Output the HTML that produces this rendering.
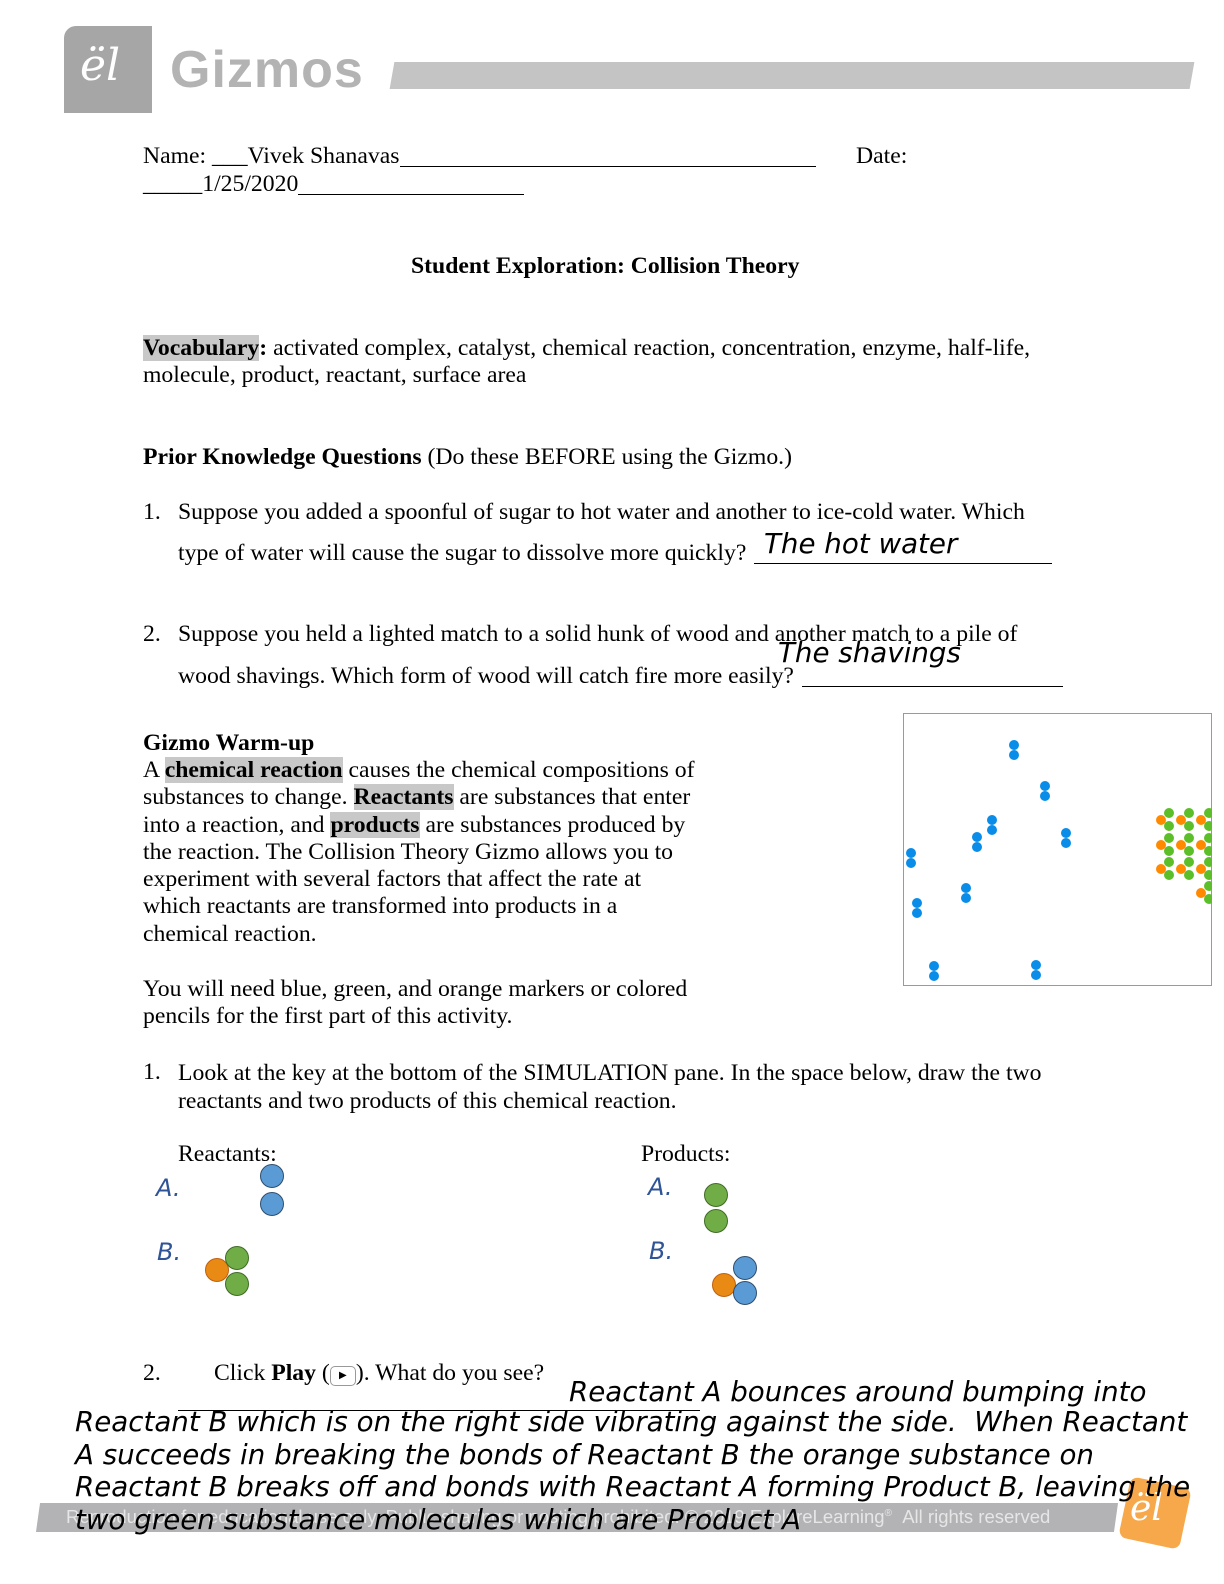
<!DOCTYPE html>
<html><head><meta charset="utf-8"><style>
body{margin:0;width:1224px;height:1584px;position:relative;background:#fff;font-family:"Liberation Serif",serif;font-size:23.7px;color:#000;overflow:hidden}
.a{position:absolute;white-space:nowrap}
.h{font-family:"DejaVu Sans",sans-serif;font-style:italic;font-size:27.7px;color:#000}
.hl{background:#c8c8c8}
.ab{font-family:"DejaVu Sans",sans-serif;font-style:italic;font-size:24px;color:#2f5597}
.c{position:absolute;border-radius:50%;border:1.5px solid #2d4e6e;box-sizing:border-box}
.ul{position:absolute;border-top:1px solid #000;height:0}
</style></head><body>
<!-- header -->
<div class="a" style="left:64px;top:26px;width:88px;height:87px;background:#a6a6a6;border-radius:12px 0 0 0"></div>
<div class="a" style="left:80px;top:40px;font-family:'DejaVu Serif',serif;font-style:italic;font-size:44px;color:#fff">ël</div>
<div class="a" style="left:170px;top:40px;font-family:'Liberation Sans',sans-serif;font-weight:bold;font-size:52px;color:#b3b3b3;letter-spacing:1px">Gizmos</div>
<div class="a" style="left:392px;top:62px;width:800px;height:27px;background:#c4c4c4;transform:skewX(-10deg)"></div>

<div class="a" style="left:143px;top:143px">Name: ___Vivek Shanavas</div>
<div class="ul" style="left:400px;top:166px;width:416px"></div>
<div class="a" style="left:856px;top:143px">Date:</div>
<div class="a" style="left:143px;top:171px">_____1/25/2020</div>
<div class="ul" style="left:298px;top:194px;width:226px"></div>
<div class="a" style="left:411px;top:253px;font-weight:bold">Student Exploration: Collision Theory</div>
<div class="a" style="left:143px;top:335px"><b class="hl">Vocabulary</b><b>:</b> activated complex, catalyst, chemical reaction, concentration, enzyme, half-life,</div>
<div class="a" style="left:143px;top:362px">molecule, product, reactant, surface area</div>
<div class="a" style="left:143px;top:444px"><b>Prior Knowledge Questions</b> (Do these BEFORE using the Gizmo.)</div>
<div class="a" style="left:143px;top:499px">1.</div>
<div class="a" style="left:178px;top:499px">Suppose you added a spoonful of sugar to hot water and another to ice-cold water. Which</div>
<div class="a" style="left:178px;top:540px">type of water will cause the sugar to dissolve more quickly?</div>
<div class="ul" style="left:754px;top:563px;width:298px"></div>
<div class="a h" style="left:764px;top:527px">The hot water</div>
<div class="a" style="left:143px;top:621px">2.</div>
<div class="a" style="left:178px;top:621px">Suppose you held a lighted match to a solid hunk of wood and another match to a pile of</div>
<div class="a" style="left:178px;top:663px">wood shavings. Which form of wood will catch fire more easily?</div>
<div class="ul" style="left:802px;top:686px;width:261px"></div>
<div class="a h" style="left:778px;top:636px">The shavings</div>

<div class="a" style="left:143px;top:730px;font-weight:bold">Gizmo Warm-up</div>
<div class="a" style="left:143px;top:757px;line-height:27.3px">A <b class="hl">chemical reaction</b> causes the chemical compositions of<br>substances to change. <b class="hl">Reactants</b> are substances that enter<br>into a reaction, and <b class="hl">products</b> are substances produced by<br>the reaction. The Collision Theory Gizmo allows you to<br>experiment with several factors that affect the rate at<br>which reactants are transformed into products in a<br>chemical reaction.</div>
<div class="a" style="left:143px;top:976px;line-height:27.3px">You will need blue, green, and orange markers or colored<br>pencils for the first part of this activity.</div>

<svg class="a" style="left:903px;top:713px" width="309" height="273">
<rect x="0.5" y="0.5" width="308" height="272" fill="#fff" stroke="#9a9a9a"/>
<g fill="#0a8de8">
<circle cx="111" cy="32" r="5"/><circle cx="111" cy="42" r="5"/>
<circle cx="142" cy="73" r="5"/><circle cx="142" cy="83" r="5"/>
<circle cx="89" cy="107" r="5"/><circle cx="89" cy="117" r="5"/>
<circle cx="74" cy="124" r="5"/><circle cx="74" cy="134" r="5"/>
<circle cx="163" cy="120" r="5"/><circle cx="163" cy="130" r="5"/>
<circle cx="8" cy="140" r="5"/><circle cx="8" cy="150" r="5"/>
<circle cx="63" cy="175" r="5"/><circle cx="63" cy="185" r="5"/>
<circle cx="14" cy="190" r="5"/><circle cx="14" cy="200" r="5"/>
<circle cx="31" cy="253" r="5"/><circle cx="31" cy="263" r="5"/>
<circle cx="133" cy="252" r="5"/><circle cx="133" cy="262" r="5"/>
</g>
<g id="m"><circle cx="258" cy="107" r="5" fill="#ff8a00"/><circle cx="266" cy="100" r="5" fill="#5cbf2a"/><circle cx="266" cy="113" r="5" fill="#5cbf2a"/></g>
<use href="#m" x="20"/><use href="#m" x="40"/>
<use href="#m" y="25"/><use href="#m" x="20" y="25"/><use href="#m" x="40" y="25"/>
<use href="#m" y="49"/><use href="#m" x="20" y="49"/><use href="#m" x="40" y="49"/>
<use href="#m" x="40" y="73"/>
</svg>

<div class="a" style="left:143px;top:1059px">1.</div>
<div class="a" style="left:178px;top:1059px;line-height:28px">Look at the key at the bottom of the SIMULATION pane. In the space below, draw the two<br>reactants and two products of this chemical reaction.</div>
<div class="a" style="left:178px;top:1141px">Reactants:</div>
<div class="a" style="left:641px;top:1141px">Products:</div>
<div class="a ab" style="left:156px;top:1174px">A.</div>
<div class="a ab" style="left:157px;top:1238px">B.</div>
<div class="a ab" style="left:648px;top:1173px">A.</div>
<div class="a ab" style="left:649px;top:1237px">B.</div>
<div class="c" style="left:260px;top:1164px;width:24px;height:24px;background:#5b9bd5"></div>
<div class="c" style="left:260px;top:1192px;width:24px;height:24px;background:#5b9bd5"></div>
<div class="c" style="left:205px;top:1258px;width:24px;height:24px;background:#e88a14;border-color:#c06010"></div>
<div class="c" style="left:225px;top:1246px;width:24px;height:24px;background:#70ad47;border-color:#3f6b25"></div>
<div class="c" style="left:225px;top:1272px;width:24px;height:24px;background:#70ad47;border-color:#3f6b25"></div>
<div class="c" style="left:704px;top:1183px;width:24px;height:24px;background:#70ad47;border-color:#3f6b25"></div>
<div class="c" style="left:704px;top:1209px;width:24px;height:24px;background:#70ad47;border-color:#3f6b25"></div>
<div class="c" style="left:712px;top:1273px;width:24px;height:24px;background:#e88a14;border-color:#c06010"></div>
<div class="c" style="left:733px;top:1256px;width:24px;height:24px;background:#5b9bd5"></div>
<div class="c" style="left:733px;top:1281px;width:24px;height:24px;background:#5b9bd5"></div>

<div class="a" style="left:143px;top:1360px">2.</div>
<div class="a" style="left:214px;top:1360px">Click <b>Play</b> (<span style="display:inline-block;width:24px;height:18px;border:1px solid #999;border-radius:5px;font-size:10px;text-align:center;line-height:18px;vertical-align:2px">▶</span>). What do you see?</div>
<div class="ul" style="left:178px;top:1410px;width:522px"></div>

<!-- footer -->
<div class="a" style="left:38px;top:1503px;width:1078px;height:29px;background:#b3b3b6;transform:skewX(-8deg)"></div>
<div class="a" style="left:66px;top:1506px;font-family:'Liberation Sans',sans-serif;font-size:18.5px;color:#e6e6e6">Reproduction for educational use only. Public sharing or posting prohibited. © 2019 ExploreLearning<sup style="font-size:10px">®</sup> &nbsp;All rights reserved</div>
<div class="a" style="left:1124px;top:1482px;width:62px;height:62px;background:#f6a84a;border-radius:8px;transform:rotate(12deg)"></div>
<div class="a" style="left:1130px;top:1488px;font-family:'DejaVu Serif',serif;font-style:italic;font-size:36px;color:#fff">ël</div>

<div class="a h" style="left:569px;top:1375px">Reactant A bounces around bumping into</div>
<div class="a h" style="left:75px;top:1406px;line-height:32.5px">Reactant B which is on the right side vibrating against the side.&nbsp; When Reactant<br>A succeeds in breaking the bonds of Reactant B the orange substance on<br>Reactant B breaks off and bonds with Reactant A forming Product B, leaving the<br>two green substance molecules which are Product A</div>
</body></html>
